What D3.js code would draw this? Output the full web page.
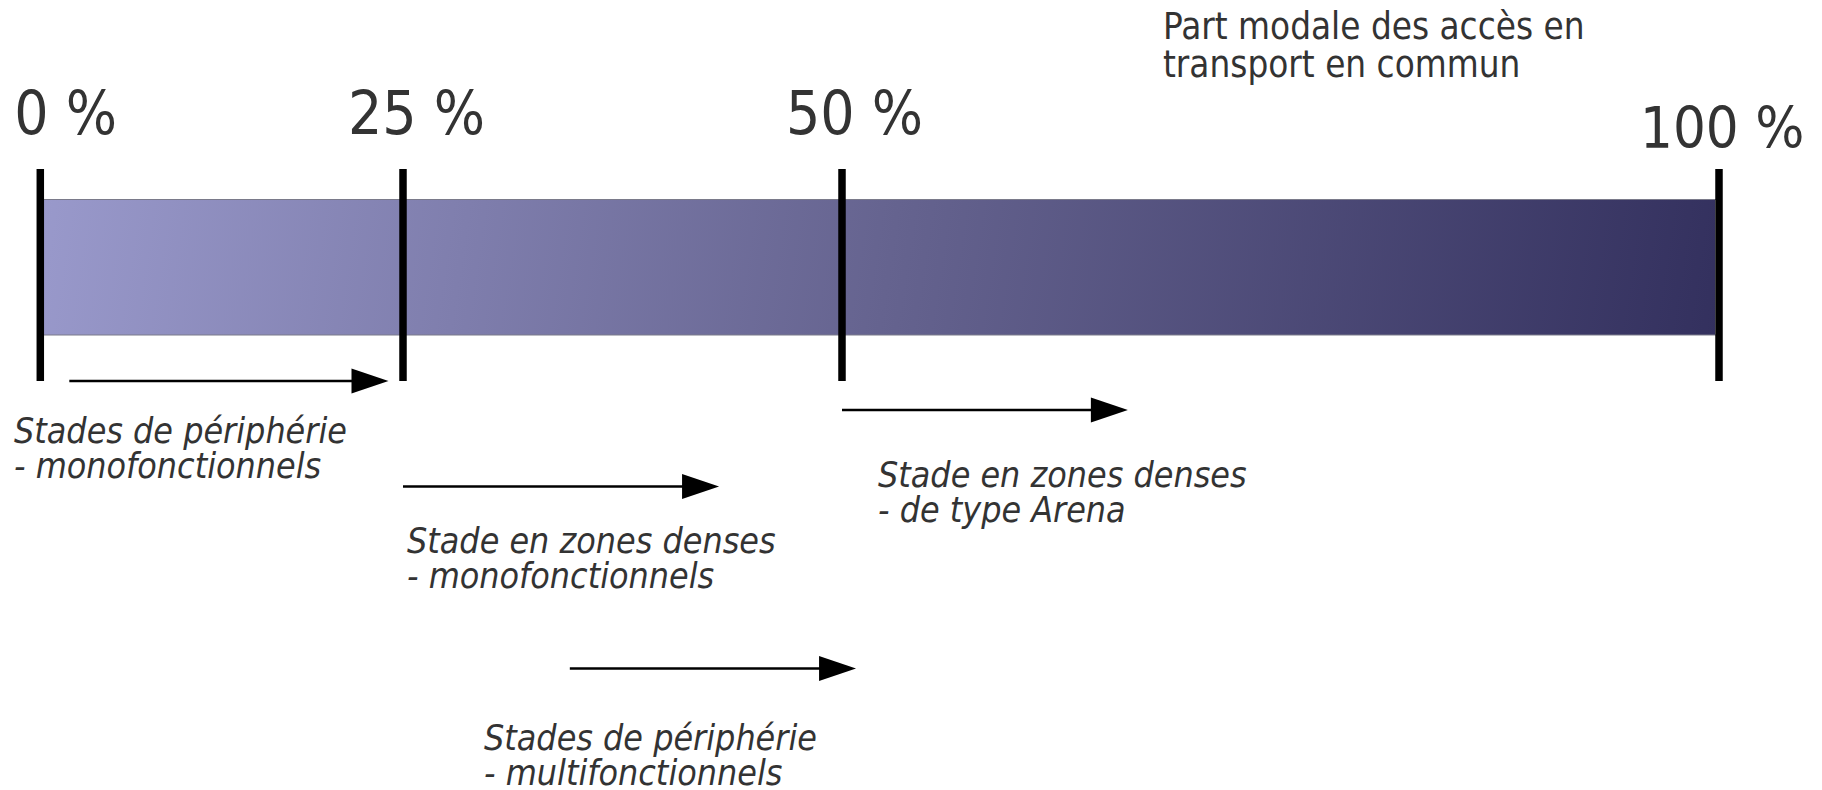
<!DOCTYPE html>
<html>
<head>
<meta charset="utf-8">
<script src="https://cdn.jsdelivr.net/npm/d3@7"></script>
<style>
  html, body { margin: 0; padding: 0; background: #fff; }
  svg { display: block; }
  text { font-family: "DejaVu Sans Condensed", "DejaVu Sans", sans-serif; font-stretch: condensed; fill: #333; }
</style>
</head>
<body>
<svg id="chart" width="1822" height="790"></svg>
<script>
// ---- data ----
const title = ["Part modale des accès en", "transport en commun"];
const tickValues = [0, 25, 50, 100];
const tickLabels = ["0 %", "25 %", "50 %", "100 %"];
const categories = [
  ["Stades de périphérie", "- monofonctionnels"],
  ["Stade en zones denses", "- monofonctionnels"],
  ["Stade en zones denses", "- de type Arena"],
  ["Stades de périphérie", "- multifonctionnels"]
];
const rangeStart = [2, 25, 50, 34.5];
const rangeEnd = [24, 43, 66.3, 50.8];

// ---- layout ----
const W = 1822, H = 790;
const x = d3.scaleLinear().domain([0, 25, 50, 100]).range([40.3, 403, 842, 1719]);
const barTop = 199.5, barBottom = 335;
const tickTop = 169, tickBottom = 381;
const arrowY = [381, 486.5, 410, 668.5];
const labelX = [14, 407, 878, 484];
const labelY = [442.5, 553, 486.5, 749.5];
const labelDx = [-26, -55, -56, -79];
const labelBase = [133.5, 134, 133.5, 147.5];
const labelSize = [60, 60, 60, 57.5];

const svg = d3.select("#chart");
const defs = svg.append("defs");
const grad = defs.append("linearGradient").attr("id", "barGrad")
  .attr("gradientUnits", "userSpaceOnUse")
  .attr("x1", x(0)).attr("y1", barTop).attr("x2", x(100)).attr("y2", barBottom + 120);
grad.append("stop").attr("offset", 0).attr("stop-color", "#9999cb");
grad.append("stop").attr("offset", 0.5).attr("stop-color", "#65638f");
grad.append("stop").attr("offset", 1).attr("stop-color", "#322f5d");

// bar
svg.append("rect")
  .attr("x", x(0)).attr("y", barTop)
  .attr("width", x(100) - x(0) - 4).attr("height", barBottom - barTop)
  .attr("fill", "url(#barGrad)")
  .attr("stroke", "none");
svg.append("line").attr("x1", x(0)).attr("x2", x(100)).attr("y1", barTop).attr("y2", barTop)
  .attr("stroke", "#7a7a8a").attr("stroke-width", 1);
svg.append("line").attr("x1", x(0)).attr("x2", x(100)).attr("y1", barBottom).attr("y2", barBottom)
  .attr("stroke", "#7a7a8a").attr("stroke-width", 1);

// ticks
svg.selectAll("line.tick").data(tickValues).join("line")
  .attr("class", "tick")
  .attr("x1", d => x(d)).attr("x2", d => x(d))
  .attr("y1", tickTop).attr("y2", tickBottom)
  .attr("stroke", "#000").attr("stroke-width", 7.5);

// tick labels
svg.selectAll("text.tl").data(tickValues).join("text")
  .attr("class", "tl")
  .attr("x", (d, i) => x(d) + labelDx[i])
  .attr("y", (d, i) => labelBase[i])
  .attr("font-size", (d, i) => labelSize[i])
  .text((d, i) => tickLabels[i]);

// title
svg.append("text").attr("x", 1163).attr("y", 39)
  .attr("font-size", 36.5)
  .selectAll("tspan").data(title).join("tspan")
  .attr("x", 1163).attr("dy", (d, i) => i ? 38 : 0)
  .text(d => d);

// arrows
const headL = 37, headH = 12.5;
const arrows = svg.append("g");
categories.forEach((c, i) => {
  const x0 = x(rangeStart[i]), x1 = x(rangeEnd[i]), y = arrowY[i];
  arrows.append("line").attr("x1", x0).attr("x2", x1 - headL + 1)
    .attr("y1", y).attr("y2", y).attr("stroke", "#000").attr("stroke-width", 2.6);
  arrows.append("path")
    .attr("d", `M${x1},${y}L${x1 - headL},${y - headH}L${x1 - headL},${y + headH}Z`)
    .attr("fill", "#000");
});

// category labels
categories.forEach((c, i) => {
  svg.append("text")
    .attr("x", labelX[i]).attr("y", labelY[i])
    .attr("font-size", 35.5).attr("font-style", "italic")
    .selectAll("tspan").data(c).join("tspan")
    .attr("x", labelX[i]).attr("dy", (d, j) => j ? 35 : 0)
    .text(d => d);
});
</script>
</body>
</html>
